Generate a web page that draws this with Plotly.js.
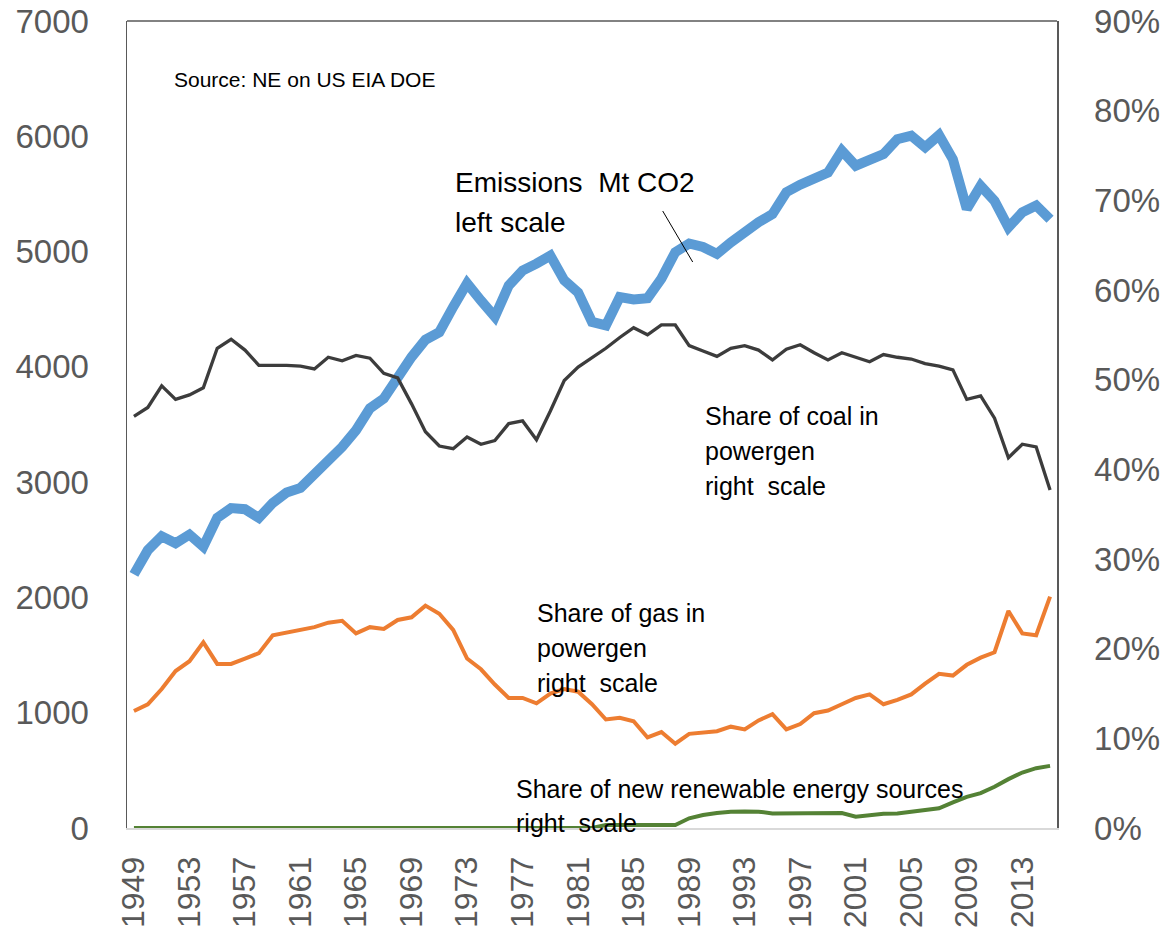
<!DOCTYPE html>
<html>
<head>
<meta charset="utf-8">
<script src="https://cdn.plot.ly/plotly-3.0.1.min.js"></script>
<style>
  html, body { margin: 0; padding: 0; background: #fff; }
  #plot { width: 1160px; height: 934px; }
</style>
</head>
<body>
<div id="plot"></div>
<script>
const years = [
    1949, 1950, 1951, 1952, 1953, 1954, 1955, 1956, 1957, 1958,
    1959, 1960, 1961, 1962, 1963, 1964, 1965, 1966, 1967, 1968,
    1969, 1970, 1971, 1972, 1973, 1974, 1975, 1976, 1977, 1978,
    1979, 1980, 1981, 1982, 1983, 1984, 1985, 1986, 1987, 1988,
    1989, 1990, 1991, 1992, 1993, 1994, 1995, 1996, 1997, 1998,
    1999, 2000, 2001, 2002, 2003, 2004, 2005, 2006, 2007, 2008,
    2009, 2010, 2011, 2012, 2013, 2014, 2015,
];

// Mt CO2, left scale
const emissions = [
    2200, 2410, 2530, 2470, 2545, 2440, 2690, 2775, 2765, 2690,
    2820, 2910, 2950, 3060, 3180, 3305, 3450, 3640, 3725, 3915,
    4085, 4235, 4300, 4520, 4725, 4575, 4435, 4705, 4835, 4895,
    4965, 4750, 4645, 4390, 4360, 4605, 4585, 4595, 4765, 4995,
    5070, 5040, 4980, 5080, 5180, 5255, 5325, 5515, 5580, 5630,
    5685, 5875, 5745, 5795, 5845, 5975, 6005, 5905, 6010, 5800,
    5370, 5570, 5440, 5210, 5340, 5400, 5280,
];

// shares, right scale
const coalShare = [
    0.459, 0.469, 0.493, 0.478, 0.483, 0.491, 0.535, 0.545, 0.533, 0.516,
    0.516, 0.516, 0.515, 0.512, 0.525, 0.521, 0.527, 0.524, 0.507, 0.502,
    0.473, 0.442, 0.426, 0.423, 0.436, 0.428, 0.432, 0.451, 0.454, 0.433,
    0.465, 0.499, 0.514, 0.524, 0.535, 0.547, 0.558, 0.550, 0.561, 0.561,
    0.538, 0.532, 0.526, 0.535, 0.538, 0.533, 0.522, 0.534, 0.539, 0.530,
    0.522, 0.530, 0.525, 0.520, 0.528, 0.525, 0.523, 0.518, 0.515, 0.511,
    0.478, 0.482, 0.457, 0.413, 0.428, 0.425, 0.377,
];

const gasShare = [
    0.1305, 0.138, 0.155, 0.175, 0.186, 0.207, 0.183, 0.183, 0.189, 0.195,
    0.215, 0.218, 0.222, 0.224, 0.229, 0.231, 0.217, 0.224, 0.222, 0.232,
    0.235, 0.248, 0.239, 0.221, 0.189, 0.177, 0.160, 0.145, 0.145, 0.139,
    0.150, 0.155, 0.152, 0.138, 0.121, 0.123, 0.119, 0.101, 0.107, 0.094,
    0.105, 0.107, 0.108, 0.113, 0.110, 0.120, 0.127, 0.110, 0.116, 0.128,
    0.131, 0.138, 0.145, 0.149, 0.138, 0.143, 0.149, 0.161, 0.172, 0.170,
    0.182, 0.190, 0.196, 0.242, 0.217, 0.215, 0.258,
];

const renewShare = [
    0, 0, 0, 0, 0, 0, 0, 0, 0, 0,
    0, 0, 0, 0, 0, 0, 0, 0, 0, 0,
    0, 0, 0, 0, 0, 0, 0, 0, 0, 0,
    0, 0, 0, 0, 0.0033, 0.0033, 0.0033, 0.0033, 0.0033, 0.0033,
    0.0108, 0.0145, 0.0167, 0.0182, 0.0185, 0.0182, 0.0163, 0.0163, 0.0163, 0.0163,
    0.0167, 0.0167, 0.0126, 0.0145, 0.0160, 0.0163, 0.0182, 0.0200, 0.0219, 0.0286,
    0.0348, 0.0389, 0.0460, 0.0545, 0.0619, 0.0667, 0.0693,
];

const FONT = 'Liberation Sans, Arial, sans-serif';

function line(y, color, width, axis) {
    return {
        x: years,
        y: y,
        yaxis: axis,
        type: 'scatter',
        mode: 'lines',
        line: { color: color, width: width },
        hoverinfo: 'skip',
    };
}

const data = [
    line(emissions, '#5b9bd5', 10, 'y'),
    line(coalShare, '#3c3c3c', 3.3, 'y2'),
    line(gasShare, '#ed7d31', 4, 'y2'),
    line(renewShare, '#548235', 4, 'y2'),
];

// pixel helpers for the text labels (plot area 127..1057.5 x 21..828)
const px = (v) => (v - 127) / 930.5;
const py = (v) => (828 - v) / 807;

function label(text, x, y, size) {
    return {
        text: text,
        xref: 'paper', yref: 'paper',
        x: px(x), y: py(y),
        xanchor: 'left', yanchor: 'middle',
        showarrow: false,
        font: { family: FONT, size: size, color: '#000' },
    };
}

const annotations = [
    label('Source: NE on US EIA DOE', 172, 79, 21),
    label('Emissions\u00a0 Mt CO2', 453, 182, 28),
    label('left scale', 453, 222, 28),
    label('Share of coal in', 703, 416, 25),
    label('powergen', 703, 451, 25),
    label('right\u00a0 scale', 703, 486, 25),
    label('Share of gas in', 535, 613, 25),
    label('powergen', 535, 648, 25),
    label('right\u00a0 scale', 535, 683, 25),
    label('Share of new renewable energy sources', 514, 789, 25),
    label('right\u00a0 scale', 514, 823, 25),
];

const layout = {
    width: 1160,
    height: 934,
    margin: { l: 127, r: 102.5, t: 21, b: 106 },
    paper_bgcolor: '#fff',
    plot_bgcolor: '#fff',
    showlegend: false,
    font: { family: FONT, color: '#595959' },
    xaxis: {
        type: 'linear',
        range: [1948.5, 2015.5],
        tick0: 1949,
        dtick: 4,
        tickangle: -90,
        ticks: '',
        ticklabelstandoff: 14,
        tickfont: { family: FONT, size: 32, color: '#595959' },
        showgrid: false,
        zeroline: false,
        showline: true,
        linecolor: '#d9d9d9',
        linewidth: 2,
    },
    yaxis: {
        range: [0, 7000],
        dtick: 1000,
        ticks: '',
        ticklabelstandoff: 30,
        tickfont: { family: FONT, size: 33, color: '#595959' },
        showgrid: false,
        zeroline: false,
        showline: true,
        linecolor: '#595959',
        linewidth: 1.5,
    },
    yaxis2: {
        overlaying: 'y',
        side: 'right',
        range: [0, 0.9],
        dtick: 0.1,
        tickformat: '.0%',
        ticks: '',
        ticklabelstandoff: 29,
        tickfont: { family: FONT, size: 33, color: '#595959' },
        showgrid: false,
        zeroline: false,
        showline: true,
        linecolor: '#595959',
        linewidth: 1.5,
    },
    shapes: [
        // top edge of the plot frame
        { type: 'line', xref: 'paper', yref: 'paper', x0: 0, x1: 1, y0: 1, y1: 1,
          line: { color: '#595959', width: 1.5 } },
        // pointer from the emissions label to its line
        { type: 'line', xref: 'paper', yref: 'paper',
          x0: px(663), y0: py(211), x1: px(693), y1: py(262),
          line: { color: '#000', width: 1 } },
    ],
    annotations: annotations,
};

Plotly.newPlot('plot', data, layout, { displayModeBar: false, staticPlot: true });
</script>
</body>
</html>
